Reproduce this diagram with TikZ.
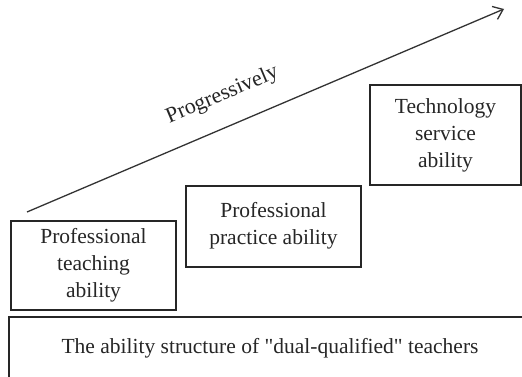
\documentclass[tikz,border=0pt]{standalone}
\usepackage{fontspec}
\setmainfont{Liberation Serif}[Ligatures=TeXOff]
\usetikzlibrary{arrows.meta}
\tikzset{
  abox/.style={draw=black!85, line width=2pt, align=center, inner sep=0pt,
    font=\fontsize{21.5}{27}\selectfont, text=black!85},
}
\begin{document}
\begin{tikzpicture}[x=1pt,y=-1pt]
\useasboundingbox (0,0) rectangle (522,377);
\clip (0,0) rectangle (522,377);
\fill[white] (0,0) rectangle (522,377);
\node[abox, minimum width=151pt, minimum height=100pt] (tech) at (445.5,135) {Technology\\service\\ability};
\node[abox, minimum width=175pt, minimum height=81pt] (prac) at (273.5,226) {Professional\\practice ability};
\node[abox, minimum width=165pt, minimum height=89pt] (teach) at (93.5,265.5) {Professional\\teaching\\ability};
\node[abox, minimum width=522pt, minimum height=62pt] (base) at (270,348) {The ability structure of "dual-qualified" teachers};
\coordinate (s) at (27,212);
\coordinate (e) at (504,9);
\draw[line width=1.3pt, black!80, -{Straight Barb[length=9pt,width=14pt,line width=1.3pt]}] (s) -- (e)
  node[pos=0.435, above=17pt, sloped, font=\fontsize{22}{26}\selectfont, text=black!85] (prog) {Progressively};
\end{tikzpicture}
\end{document}
